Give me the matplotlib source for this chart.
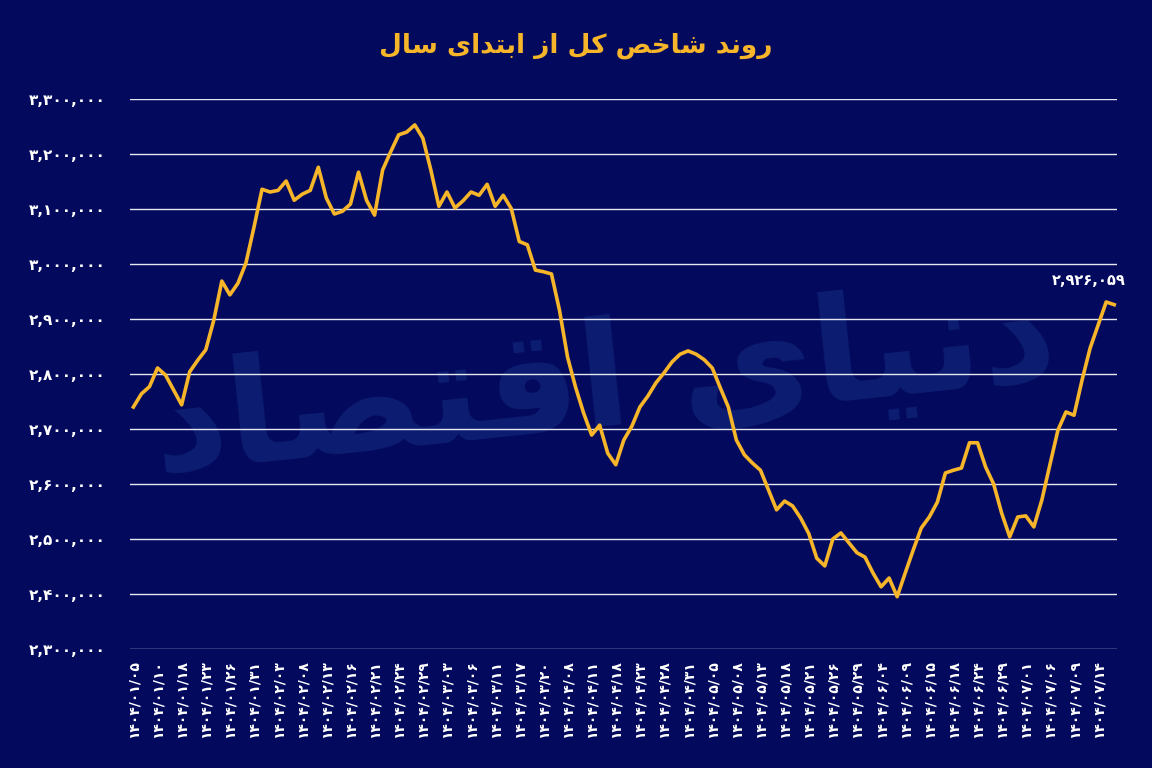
import numpy as np
import matplotlib.pyplot as plt
from matplotlib.ticker import FuncFormatter

# daily closing values of the total index
values = [
    2740000, 2764000, 2777000, 2811000, 2798000, 2771000, 2744000, 2804000, 2825000, 2844000,
    2898000, 2969000, 2944000, 2965000, 3002000, 3067000, 3136000, 3131000, 3134000, 3151000,
    3116000, 3127000, 3134000, 3176000, 3120000, 3091000, 3096000, 3109000, 3167000, 3116000,
    3089000, 3171000, 3204000, 3235000, 3240000, 3253000, 3229000, 3171000, 3105000, 3131000,
    3102000, 3115000, 3131000, 3125000, 3145000, 3105000, 3125000, 3101000, 3041000, 3035000,
    2989000, 2986000, 2982000, 2916000, 2831000, 2776000, 2729000, 2689000, 2707000, 2656000,
    2635000, 2680000, 2705000, 2740000, 2760000, 2784000, 2802000, 2822000, 2836000, 2842000,
    2836000, 2826000, 2811000, 2775000, 2740000, 2680000, 2653000, 2638000, 2625000, 2589000,
    2553000, 2569000, 2560000, 2538000, 2510000, 2465000, 2451000, 2500000, 2511000, 2493000,
    2475000, 2467000, 2438000, 2413000, 2429000, 2395000, 2438000, 2480000, 2520000, 2540000,
    2567000, 2620000, 2625000, 2629000, 2675000, 2675000, 2631000, 2600000, 2547000, 2504000,
    2540000, 2542000, 2522000, 2571000, 2635000, 2698000, 2731000, 2725000, 2789000, 2847000,
    2889000, 2931000, 2926059,
]

tick_dates = [
    "1404/01/05", "1404/01/10", "1404/01/18", "1404/01/23", "1404/01/26", "1404/01/31",
    "1404/02/03", "1404/02/08", "1404/02/13", "1404/02/16", "1404/02/21", "1404/02/24",
    "1404/02/29", "1404/03/03", "1404/03/06", "1404/03/11", "1404/03/17", "1404/03/20",
    "1404/04/08", "1404/04/11", "1404/04/18", "1404/04/23", "1404/04/28", "1404/04/31",
    "1404/05/05", "1404/05/08", "1404/05/13", "1404/05/18", "1404/05/21", "1404/05/26",
    "1404/05/29", "1404/06/04", "1404/06/09", "1404/06/15", "1404/06/18", "1404/06/24",
    "1404/06/29", "1404/07/01", "1404/07/06", "1404/07/09", "1404/07/14",
]

y_ticks = [2300000, 2400000, 2500000, 2600000, 2700000, 2800000,
           2900000, 3000000, 3100000, 3200000, 3300000]

# title "روند شاخص کل از ابتدای سال" and watermark "دنیای اقتصاد",
# written in presentation forms, visual order (matplotlib does no shaping)
title = ("\uFEDD\uFE8E\uFEB3 \uFEEF\uFE8D\uFEAA\uFE98\uFE91\uFE8D \uFEAF\uFE8D "
         "\uFEDE\uFEDB \uFEBA\uFEA7\uFE8E\uFEB7 \uFEAA\uFEE7\uFEED\uFEAD")
watermark = "\uFEA9\uFE8E\uFEBC\uFE98\uFED7\uFE8D \uFEEF\uFE8E\uFEF4\uFEE7\uFEA9"

fa_digits = str.maketrans("0123456789", "\u06F0\u06F1\u06F2\u06F3\u06F4\u06F5\u06F6\u06F7\u06F8\u06F9")


def fa(s):
    return s.translate(fa_digits)


bg = "#030a5e"
gold = "#f7b52a"

plt.rcParams['font.family'] = ['DejaVu Sans']

fig = plt.figure(figsize=(11.52, 7.68), dpi=100, facecolor=bg)
ax = fig.add_axes([0.113, 0.155, 0.857, 0.716])
ax.set_facecolor(bg)

x = np.arange(len(values))

ax.text(0.48, 0.48, watermark, transform=ax.transAxes, fontsize=105, fontweight='bold',
        color='#1c3c8f', alpha=0.4, ha='center', va='center', rotation=6, zorder=0)

for yv in y_ticks:
    ax.axhline(yv, color='white', lw=1.0, alpha=0.9, zorder=1)

ax.plot(x, values, color=gold, lw=2.6, solid_joinstyle='round', zorder=3)

ax.annotate(fa("{:,}".format(values[-1])), (x[-1], values[-1]), xytext=(-18, 12),
            textcoords='offset points', ha='center', va='bottom', color='white',
            fontsize=10.5, fontweight='bold', zorder=4)

ax.set_xlim(-0.4, len(values) - 0.6)
ax.set_ylim(y_ticks[0], y_ticks[-1])
ax.set_yticks(y_ticks)
ax.yaxis.set_major_formatter(FuncFormatter(lambda v, p: fa("{:,.0f}".format(v))))
ax.set_xticks(np.arange(0, len(tick_dates) * 3, 3))
ax.set_xticklabels([fa(d) for d in tick_dates], rotation=90)

ax.tick_params(axis='y', length=0, pad=18, colors='white', labelsize=11)
ax.tick_params(axis='x', length=0, pad=8, colors='white', labelsize=10)
for lab in ax.get_xticklabels() + ax.get_yticklabels():
    lab.set_fontweight('bold')

for s in ax.spines.values():
    s.set_visible(False)

fig.text(0.5, 0.94, title, ha='center', va='center', color=gold, fontsize=19,
         fontweight='bold')

fig.savefig("out.png", dpi=100, facecolor=bg)
